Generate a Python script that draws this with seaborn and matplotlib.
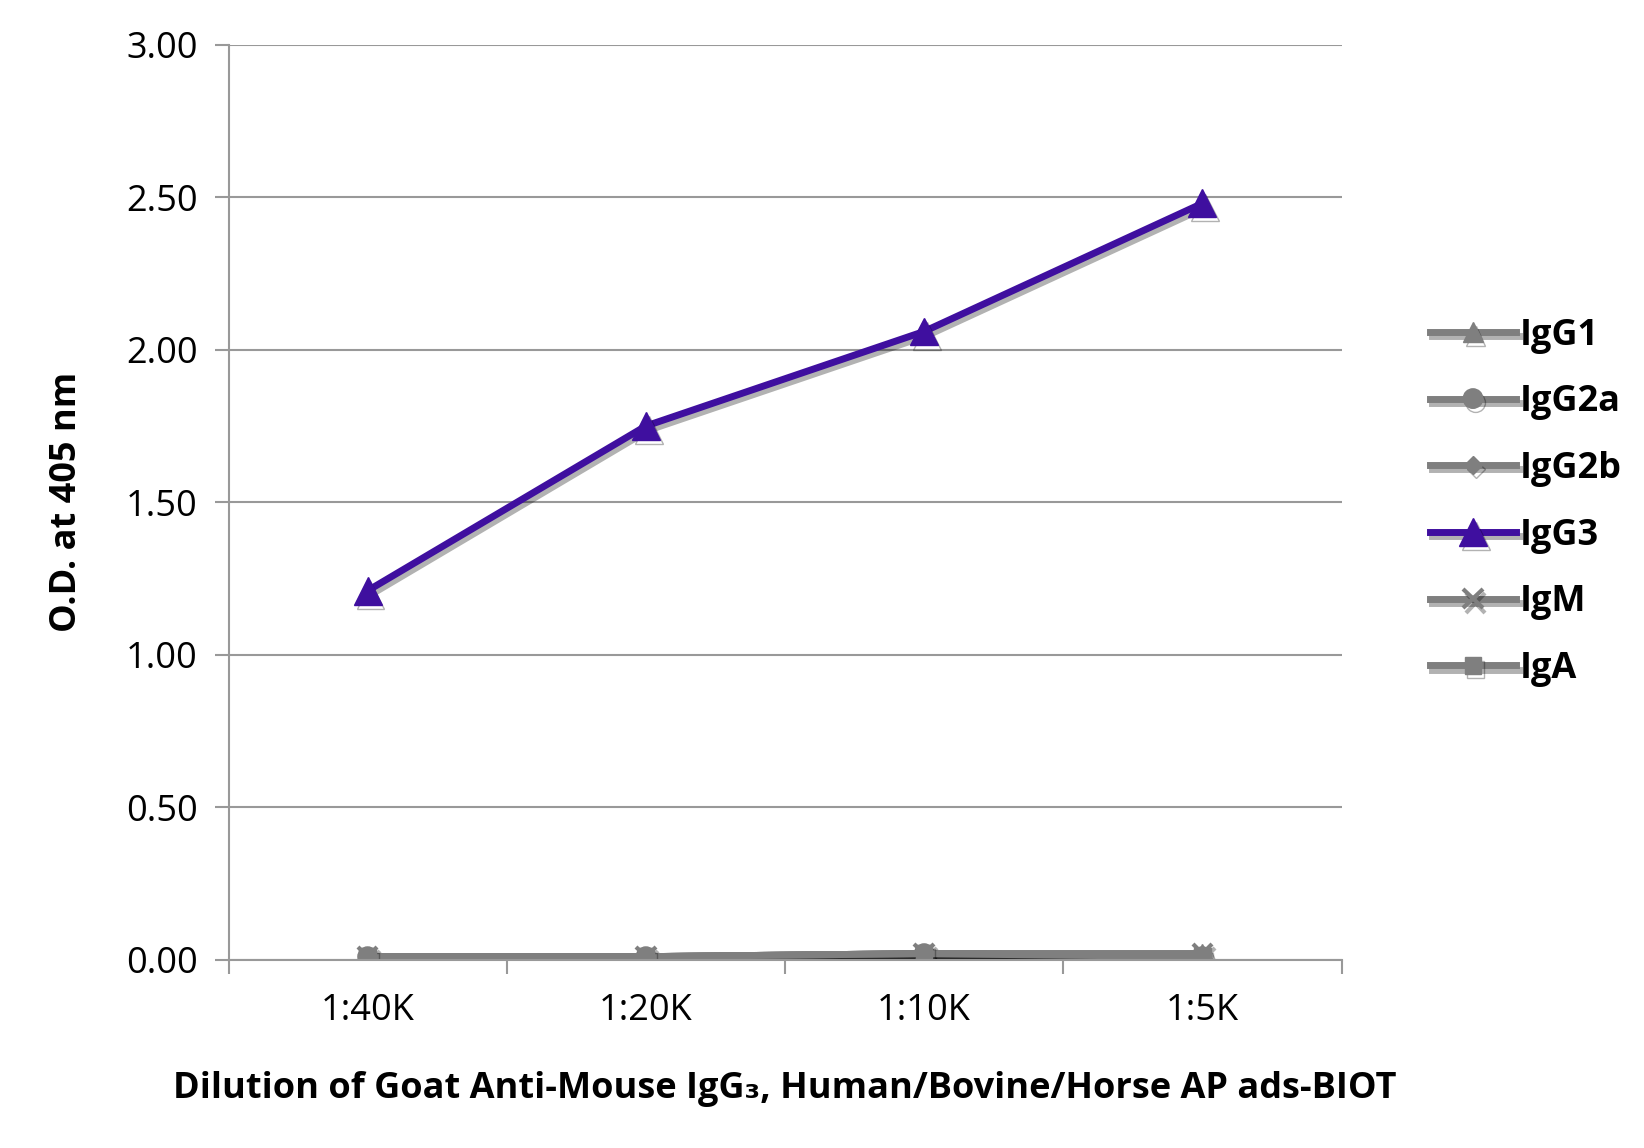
import numpy as np
import pandas as pd
import matplotlib
matplotlib.use('Agg')
import matplotlib.pyplot as plt
import matplotlib.patheffects as pe
import seaborn as sns

dilutions = ['1:40K', '1:20K', '1:10K', '1:5K']
series = ['IgG1', 'IgG2a', 'IgG2b', 'IgG3', 'IgM', 'IgA']
igg1 = [0.01, 0.01, 0.02, 0.02]
igg2a = [0.01, 0.01, 0.02, 0.01]
igg2b = [0.01, 0.01, 0.02, 0.01]
igg3 = [1.21, 1.75, 2.06, 2.48]
igm = [0.01, 0.01, 0.02, 0.02]
iga = [0.01, 0.01, 0.02, 0.01]

values = [igg1, igg2a, igg2b, igg3, igm, iga]
markers = ['^', 'o', 'D', '^', 'x', 's']
sizes = [14, 14, 9, 20, 14, 12]
colors = ['#7f7f7f', '#7f7f7f', '#7f7f7f', '#3f0f9f', '#7f7f7f', '#7f7f7f']

df = pd.DataFrame({
    'dilution': np.tile(dilutions, len(series)),
    'od': np.concatenate(values),
    'series': np.repeat(series, len(dilutions)),
})

plt.rcParams['font.family'] = ['Open Sans', 'DejaVu Sans']
fig = plt.figure(figsize=(16.44, 11.48), dpi=100)
ax = fig.add_axes([0.139, 0.164, 0.677, 0.797])

shadow = [pe.SimpleLineShadow(offset=(2, -3), alpha=0.3), pe.Normal()]
for i, name in enumerate(series):
    sub = df[df['series'] == name]
    sns.lineplot(data=sub, x='dilution', y='od', ax=ax, color=colors[i], marker=markers[i],
                 markersize=sizes[i], markeredgecolor=colors[i], markeredgewidth=3 if markers[i] == 'x' else 1,
                 linewidth=5, label=name, sort=False, path_effects=shadow)

ax.set_xlim(-0.5, 3.5)
ax.set_ylim(0, 3)
ax.set_yticks(np.arange(0, 3.01, 0.5))
ax.set_yticklabels([f'{v:.2f}' for v in np.arange(0, 3.01, 0.5)], fontsize=26)
ax.set_xticks(range(4))
ax.set_xticklabels(dilutions, fontsize=26)
ax.set_xticks([-0.5, 0.5, 1.5, 2.5, 3.5], minor=True)
ax.tick_params(axis='x', which='major', length=0, pad=24)
ax.tick_params(axis='x', which='minor', length=10, color='#999999', width=1.5)
ax.tick_params(axis='y', length=10, color='#999999', width=1.5, direction='out', pad=12)
ax.grid(axis='y', color='#999999', linewidth=1.5)
for s in ['top', 'right']:
    ax.spines[s].set_visible(False)
for s in ['left', 'bottom']:
    ax.spines[s].set_color('#999999')
    ax.spines[s].set_linewidth(1.5)

ax.set_ylabel('O.D. at 405 nm', fontsize=26, fontweight='bold', labelpad=30)
ax.set_xlabel('Dilution of Goat Anti-Mouse IgG\u2083, Human/Bovine/Horse AP ads-BIOT',
              fontsize=26, fontweight='bold', labelpad=30)

ax.legend(loc='center left', bbox_to_anchor=(1.05, 0.5), frameon=False,
          prop={'weight': 'bold', 'size': 26}, handlelength=2.4, labelspacing=0.85, handletextpad=0.1)

fig.savefig('out.png', dpi=100, facecolor='white')
